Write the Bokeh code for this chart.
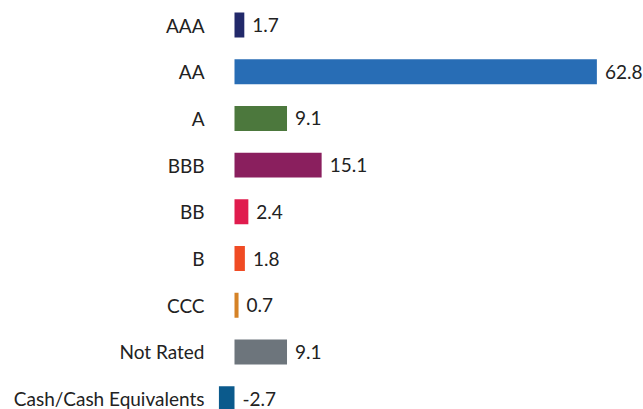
from bokeh.plotting import figure
from bokeh.models import Range1d, FixedTicker, ColumnDataSource
from bokeh.core.properties import value
from bokeh.embed import file_html
from bokeh.resources import INLINE

categories = ["AAA", "AA", "A", "BBB", "BB", "B", "CCC", "Not Rated", "Cash/Cash Equivalents"]
values = [1.7, 62.8, 9.1, 15.1, 2.4, 1.8, 0.7, 9.1, -2.7]
colors = ["#22296a", "#286db5", "#4c783d", "#8a1f5e", "#e01c4e", "#f04b24", "#d58226", "#6d757c", "#0b5a8c"]

ypos = list(range(len(categories)))
src = ColumnDataSource(dict(
    y=ypos,
    v=values,
    color=colors,
    lx=[max(v, 0) for v in values],
    label=[f"{v:.1f}" for v in values],
))

FONT = "Lato"
p = figure(width=643, height=409, output_backend="svg", toolbar_location=None,
           x_range=Range1d(-3.813, 70.88), y_range=Range1d(8.233, -0.525),
           min_border_left=212, min_border_right=0, min_border_top=0, min_border_bottom=0)
p.outline_line_color = None
p.xaxis.visible = False
p.grid.visible = False

p.hbar(y="y", left=0, right="v", height=0.535, color="color", line_color=None, source=src)
p.text(x="lx", y="y", text="label", x_offset=8, text_baseline="middle", text_align="left",
       text_font=value(FONT), text_font_size="19px", text_color="#222222", source=src)

ax = p.yaxis[0]
ax.ticker = FixedTicker(ticks=ypos)
ax.major_label_overrides = {i: c for i, c in enumerate(categories)}
ax.axis_line_color = None
ax.major_tick_line_color = None
ax.minor_tick_line_color = None
ax.major_tick_out = 0
ax.major_tick_in = 0
ax.major_label_standoff = 8
ax.major_label_text_font = FONT
ax.major_label_text_font_size = "19px"
ax.major_label_text_color = "#222222"

open("out.html", "w").write(file_html(p, INLINE))
